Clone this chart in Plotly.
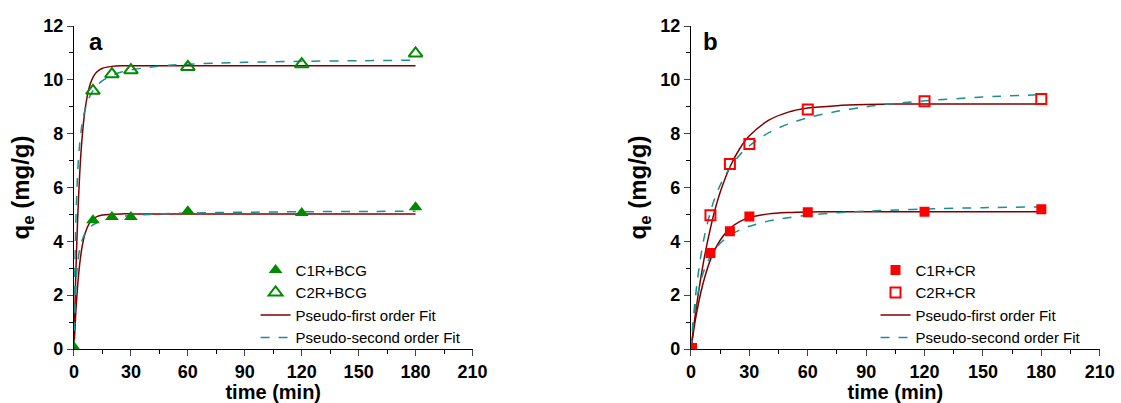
import plotly.graph_objects as go

# ---- measured data ----
t_data = [0, 10, 20, 30, 60, 120, 180]
a_c1 = [0, 4.78, 4.90, 4.90, 5.12, 5.05, 5.27]
a_c2 = [0, 9.59, 10.21, 10.36, 10.48, 10.58, 10.98]
b_c1 = [0, 3.57, 4.37, 4.92, 5.08, 5.10, 5.19]
b_c2 = [0, 4.97, 6.87, 7.62, 8.90, 9.20, 9.29]

# ---- fitted curves ----
t_fit_a = [0, 0.5, 1, 2, 3, 4, 5, 6, 8, 10, 12, 15, 20, 25, 30, 40, 50, 60, 75, 90, 120, 150, 180]
a_pfo_c2 = [0, 1.56, 2.88, 4.97, 6.49, 7.60, 8.40, 8.98, 9.71, 10.09, 10.29, 10.43, 10.50,
            10.52, 10.52, 10.52, 10.52, 10.52, 10.52, 10.52, 10.52, 10.52, 10.52]
a_pso_c2 = [0, 3.09, 4.80, 6.65, 7.62, 8.23, 8.64, 8.94, 9.34, 9.60, 9.78, 9.97, 10.16,
            10.29, 10.37, 10.47, 10.54, 10.58, 10.62, 10.65, 10.69, 10.71, 10.73]
a_pfo_c1 = [0, 0.76, 1.41, 2.42, 3.15, 3.68, 4.06, 4.33, 4.66, 4.83, 4.92, 4.98, 5.01,
            5.02, 5.02, 5.02, 5.02, 5.02, 5.02, 5.02, 5.02, 5.02, 5.02]
a_pso_c1 = [0, 1.54, 2.37, 3.24, 3.70, 3.98, 4.17, 4.31, 4.49, 4.61, 4.69, 4.78, 4.86,
            4.92, 4.96, 5.00, 5.03, 5.05, 5.07, 5.08, 5.10, 5.11, 5.12]

t_fit_b = [0, 1, 2, 3, 5, 7, 10, 12, 15, 20, 25, 30, 40, 50, 60, 75, 90, 105, 120, 150, 180]
b_pfo_c2 = [0, 0.60, 1.16, 1.68, 2.62, 3.45, 4.49, 5.08, 5.82, 6.76, 7.44, 7.92, 8.50, 8.80,
            8.95, 9.04, 9.08, 9.10, 9.10, 9.10, 9.10]
b_pso_c2 = [0, 0.95, 1.73, 2.38, 3.43, 4.22, 5.10, 5.55, 6.09, 6.74, 7.21, 7.55, 8.04, 8.36,
            8.59, 8.83, 9.00, 9.12, 9.22, 9.36, 9.45]
b_pfo_c1 = [0, 0.51, 0.97, 1.38, 2.08, 2.65, 3.32, 3.65, 4.04, 4.48, 4.73, 4.88, 5.02, 5.07,
            5.09, 5.10, 5.10, 5.10, 5.10, 5.10, 5.10]
b_pso_c1 = [0, 0.80, 1.39, 1.86, 2.52, 2.98, 3.45, 3.67, 3.93, 4.22, 4.42, 4.56, 4.76, 4.88,
            4.97, 5.06, 5.12, 5.16, 5.20, 5.25, 5.28]

x_ticks = [0, 30, 60, 90, 120, 150, 180, 210]
y_ticks = [0, 2, 4, 6, 8, 10, 12]

FONT = "Liberation Sans, Arial, sans-serif"
GREEN = "#008a00"
RED = "#ff0000"
PFO_COL = "#800000"
PSO_COL = "#1a8f8f"

fig = go.Figure()


def add_fits(t, pfo_list, pso_list, xa, ya, leg):
    for i, y in enumerate(pfo_list):
        fig.add_trace(go.Scatter(
            x=t, y=y, mode="lines", xaxis=xa, yaxis=ya, legend=leg,
            line=dict(color=PFO_COL, width=1.5, shape="spline", smoothing=0.8),
            name="Pseudo-first order Fit", legendgroup="pfo" + leg,
            showlegend=(i == 0), legendrank=3))
    for i, y in enumerate(pso_list):
        fig.add_trace(go.Scatter(
            x=t, y=y, mode="lines", xaxis=xa, yaxis=ya, legend=leg,
            line=dict(color=PSO_COL, width=1.5, dash="dash", shape="spline", smoothing=0.8),
            name="Pseudo-second order Fit", legendgroup="pso" + leg,
            showlegend=(i == 0), legendrank=4))


add_fits(t_fit_a, [a_pfo_c2, a_pfo_c1], [a_pso_c2, a_pso_c1], "x", "y", "legend")
add_fits(t_fit_b, [b_pfo_c2, b_pfo_c1], [b_pso_c2, b_pso_c1], "x2", "y2", "legend2")

fig.add_trace(go.Scatter(x=t_data, y=a_c1, mode="markers", name="C1R+BCG", legend="legend",
                         legendrank=1,
                         marker=dict(symbol="triangle-up", size=12, color=GREEN)))
fig.add_trace(go.Scatter(x=t_data, y=a_c2, mode="markers", name="C2R+BCG", legend="legend",
                         legendrank=2,
                         marker=dict(symbol="triangle-up-open", size=12, color=GREEN,
                                     line=dict(width=2, color=GREEN))))
fig.add_trace(go.Scatter(x=t_data, y=b_c1, mode="markers", name="C1R+CR", xaxis="x2", yaxis="y2",
                         legend="legend2", legendrank=1,
                         marker=dict(symbol="square", size=10, color=RED)))
fig.add_trace(go.Scatter(x=t_data, y=b_c2, mode="markers", name="C2R+CR", xaxis="x2", yaxis="y2",
                         legend="legend2", legendrank=2,
                         marker=dict(symbol="square-open", size=10, color=RED,
                                     line=dict(width=2, color=RED))))

xcommon = dict(range=[0, 210], tickvals=x_ticks, ticks="outside", ticklen=6, tickwidth=1.3,
               showline=True, linecolor="black", linewidth=1.3, showgrid=False, zeroline=False,
               automargin=False,
               tickfont=dict(family=FONT, size=18, color="black", weight="bold"),
               minor=dict(dtick=15, tick0=0, ticks="outside", ticklen=3.5, tickwidth=1.3,
                          tickcolor="black", showgrid=False),
               title=dict(text="time (min)", standoff=0,
                          font=dict(family=FONT, size=20, color="black", weight="bold")))
ycommon = dict(range=[0, 12], tickvals=y_ticks, ticks="outside", ticklen=6, tickwidth=1.3,
               showline=True, linecolor="black", linewidth=1.3, showgrid=False, zeroline=False,
               automargin=False,
               tickfont=dict(family=FONT, size=18, color="black", weight="bold"),
               minor=dict(dtick=1, tick0=0, ticks="outside", ticklen=3.5, tickwidth=1.3,
                          tickcolor="black", showgrid=False),
               title=dict(text="q<sub>e</sub> (mg/g)", standoff=6,
                          font=dict(family=FONT, size=24, color="black", weight="bold")))

legfont = dict(family=FONT, size=15, color="black")
fig.update_layout(
    width=1121, height=403,
    margin=dict(l=0, r=0, t=26, b=54),
    paper_bgcolor="white", plot_bgcolor="white",
    xaxis=dict(domain=[0.066, 0.4215], anchor="y", **xcommon),
    yaxis=dict(domain=[0, 1], anchor="x", **ycommon),
    xaxis2=dict(domain=[0.6164, 0.981], anchor="y2", **xcommon),
    yaxis2=dict(domain=[0, 1], anchor="x2", **ycommon),
    legend=dict(x=0.228, y=0.295, xanchor="left", yanchor="top", font=legfont,
                bgcolor="rgba(0,0,0,0)", tracegroupgap=0, itemwidth=30),
    legend2=dict(x=0.781, y=0.295, xanchor="left", yanchor="top", font=legfont,
                 bgcolor="rgba(0,0,0,0)", tracegroupgap=0, itemwidth=30),
    annotations=[
        dict(text="a", x=0.078, y=1.0, xref="paper", yref="paper", xanchor="left", yanchor="top",
             showarrow=False, font=dict(family=FONT, size=24, color="black", weight="bold")),
        dict(text="b", x=0.625, y=1.0, xref="paper", yref="paper", xanchor="left", yanchor="top",
             showarrow=False, font=dict(family=FONT, size=24, color="black", weight="bold")),
    ],
)

fig.write_html("out.html",
               config={"displayModeBar": False},
               post_script="document.body.style.margin='0';document.body.style.overflow='hidden';")
